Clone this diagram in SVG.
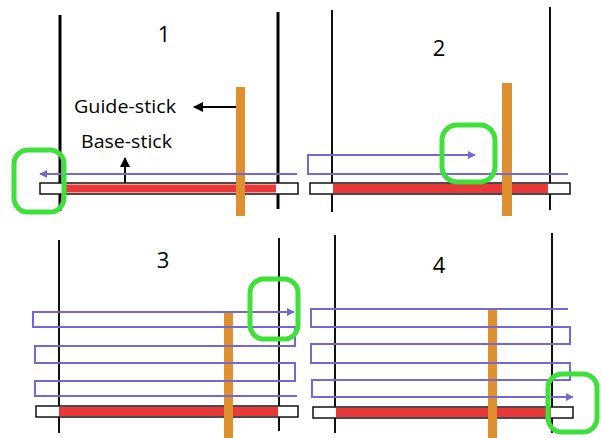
<svg xmlns="http://www.w3.org/2000/svg" width="601" height="438" viewBox="0 0 601 438">
<defs>
<marker id="ap" viewBox="0 0 10 10" refX="9" refY="5" markerWidth="4" markerHeight="4" orient="auto"><path d="M0,0 L10,5 L0,10 z" fill="#7468d4"/></marker>
<marker id="ab" viewBox="0 0 10 10" refX="9" refY="5" markerWidth="5" markerHeight="5" orient="auto"><path d="M0,0 L10,5 L0,10 z" fill="#000"/></marker>
<style>
.pole{stroke:#111;stroke-width:2}
.pole1{stroke:#000;stroke-width:3}
.guide{fill:#de8f2e}
.base{fill:#fff;stroke:#111;stroke-width:1.5}
.red{fill:#e83838}
.yarn{fill:none;stroke:#7468d4;stroke-width:2}
.hl{fill:none;stroke:#3fe03a;stroke-width:5}
.num{font-family:"Open Sans","Noto Sans",sans-serif;font-size:22px;fill:#000;text-anchor:middle}
.lbl{font-family:"Open Sans","Noto Sans",sans-serif;font-size:19px;fill:#000}
</style>
</defs>
<rect width="601" height="438" fill="#fff"/>

<g id="panel1">
<line class="pole1" x1="60" y1="15" x2="60" y2="211"/>
<line class="pole1" x1="278" y1="12" x2="278" y2="209"/>
<text class="num" x="164" y="42">1</text>
<rect class="base" x="40" y="183" width="258" height="11"/>
<rect class="red" x="62" y="184.5" width="214" height="8"/>
<rect class="guide" x="236" y="87" width="9" height="129"/>
<text class="lbl" x="74" y="113" textLength="102" lengthAdjust="spacingAndGlyphs">Guide-stick</text>
<text class="lbl" x="81" y="148" textLength="91" lengthAdjust="spacingAndGlyphs">Base-stick</text>
</g>

<g id="panel2">
<line class="pole" x1="332" y1="10" x2="332" y2="212"/>
<line class="pole" x1="550" y1="7" x2="550" y2="210"/>
<text class="num" x="439" y="56">2</text>
<rect class="base" x="310" y="183" width="260" height="11"/>
<rect class="red" x="333" y="184" width="215" height="9"/>
<rect class="guide" x="502" y="83" width="10" height="133"/>
</g>

<g id="panel3">
<line class="pole" x1="59" y1="240" x2="59" y2="433"/>
<line class="pole" x1="279" y1="238" x2="279" y2="431"/>
<text class="num" x="163" y="268">3</text>
<rect class="base" x="36" y="406" width="262" height="11"/>
<rect class="red" x="59" y="407" width="219" height="9"/>
<rect class="guide" x="224" y="312" width="9" height="126"/>
</g>

<g id="panel4">
<line class="pole" x1="335" y1="235" x2="335" y2="433"/>
<line class="pole" x1="552" y1="233" x2="552" y2="433"/>
<text class="num" x="439" y="273">4</text>
<rect class="base" x="313" y="407" width="260" height="11"/>
<rect class="red" x="336" y="408" width="215" height="9"/>
<rect class="guide" x="488" y="308" width="9" height="130"/>
</g>

<g id="connectors">
<line x1="236" y1="107" x2="194" y2="107" stroke="#000" stroke-width="2" marker-end="url(#ab)"/>
<line x1="125" y1="183" x2="125" y2="158" stroke="#000" stroke-width="2" marker-end="url(#ab)"/>
<line class="yarn" x1="297" y1="174" x2="40" y2="174" stroke-width="3" marker-end="url(#ap)"/>
<path class="yarn" d="M568,174 H308 V155 H475" marker-end="url(#ap)"/>
<path class="yarn" d="M297,396 H35 V381 H295 V363 H35 V346 H295 V327 H33 V312 H294" marker-end="url(#ap)"/>
<path class="yarn" d="M568,309 H311 V327 H570 V344 H311 V363 H570 V380 H312 V397 H573" marker-end="url(#ap)"/>
</g>

<g id="highlights">
<rect class="hl" x="14" y="150" width="50" height="62" rx="14"/>
<rect class="hl" x="442" y="125" width="53" height="57" rx="15"/>
<rect class="hl" x="250" y="279" width="48" height="60" rx="14"/>
<rect class="hl" x="548" y="374" width="49" height="58" rx="14"/>
</g>
</svg>
